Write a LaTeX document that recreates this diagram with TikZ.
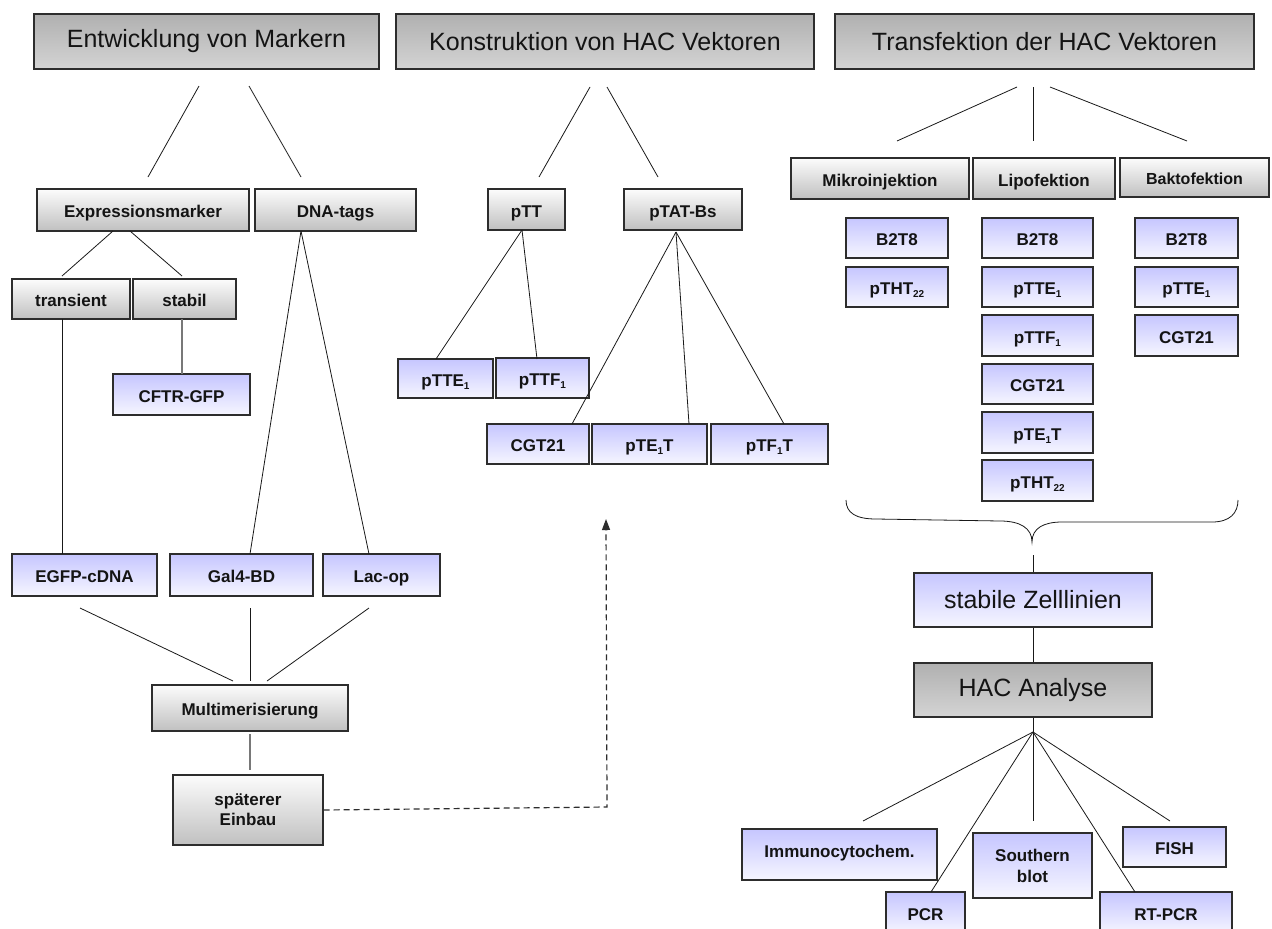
\documentclass[tikz,border=0pt]{standalone}
\usepackage{fontspec}
\setmainfont{Liberation Sans}
\usetikzlibrary{arrows.meta}

\definecolor{boxline}{RGB}{45,45,45}
\definecolor{linecol}{RGB}{25,25,25}
\definecolor{softline}{RGB}{120,120,120}
\definecolor{hdrtop}{RGB}{176,176,176}
\definecolor{hdrbot}{RGB}{212,212,212}
\definecolor{sgtop}{RGB}{252,252,252}
\definecolor{sgbot}{RGB}{192,192,192}
\definecolor{bltop}{RGB}{198,198,255}
\definecolor{blbot}{RGB}{246,246,255}

\tikzset{
  box/.style={draw=boxline, line width=1.4pt, inner sep=0pt, text=black!92},
  hdr/.style={box, top color=hdrtop, bottom color=hdrbot, font=\fontsize{25}{30}\selectfont},
  oneline/.style={text height=15pt, text depth=0pt},
  sgb/.style={box, top color=sgtop, bottom color=sgbot, font=\fontsize{17}{20}\selectfont\bfseries},
  sgbs/.style={sgb, font=\fontsize{16}{20}\selectfont\bfseries, text height=14pt, text depth=0pt},
  blb/.style={box, top color=bltop, bottom color=blbot, font=\fontsize{17}{21}\selectfont\bfseries},
  blbig/.style={box, top color=bltop, bottom color=blbot, font=\fontsize{25}{30}\selectfont},
  twoline/.style={align=center},
  link/.style={draw=linecol, line width=0.8pt},
  softlink/.style={draw=softline, line width=1.1pt},
  dashlink/.style={draw=boxline, line width=1.2pt, dash pattern=on 6pt off 4pt,
    -{Triangle[width=8pt,length=11pt]}},
}

% box given by its corners: style, name, x1, y1, x2, y2, text
\newcommand\placebox[7]{%
  \node[#1, minimum width={#5-#3}, minimum height={#6-#4}]
    (#2) at ({(#3+#5)/2},{(#4+#6)/2}) {#7};}
\newcommand\sub[1]{\raisebox{-0.18em}{\fontsize{10}{10}\selectfont #1}}

\begin{document}
\begin{tikzpicture}[x=1pt,y=-1pt]
\useasboundingbox (0,0) rectangle (1272,929);
\fill[white] (0,0) rectangle (1272,929);
\clip (0,0) rectangle (1272,929);

% ---------- headers ----------
\placebox{hdr}{h1}{34}{14}{379}{69}{Entwicklung von Markern}
\placebox{hdr}{h2}{396}{14}{814}{69}{Konstruktion von HAC Vektoren}
\placebox{hdr}{h3}{835}{14}{1254}{69}{Transfektion der HAC Vektoren}

% ---------- markers ----------
\placebox{sgb,oneline}{exm}{37}{189}{249}{231}{Expressionsmarker}
\placebox{sgb,oneline}{dna}{255}{189}{416}{231}{DNA-tags}
\placebox{sgb,oneline}{trn}{12}{279}{130}{319}{transient}
\placebox{sgb,oneline}{stb}{133}{279}{236}{319}{stabil}
\placebox{blb,oneline}{cftr}{113}{374}{250}{415}{CFTR-GFP}
\placebox{blb,oneline}{egfp}{12}{554}{157}{596}{EGFP-cDNA}
\placebox{blb,oneline}{gal}{170}{554}{313}{596}{Gal4-BD}
\placebox{blb,oneline}{lac}{323}{554}{440}{596}{Lac-op}
\placebox{sgb,oneline}{mul}{152}{685}{348}{731}{Multimerisierung}
\placebox{sgb,twoline}{spt}{173}{775}{323}{845}{späterer\\Einbau}

% ---------- vectors ----------
\placebox{sgb,oneline}{ptt}{488}{189}{565}{230}{pTT}
\placebox{sgb,oneline}{ptat}{624}{189}{742}{230}{pTAT-Bs}
\placebox{blb,oneline}{ptte}{398}{359}{493}{398}{pTTE\sub{1}}
\placebox{blb,oneline}{pttf}{496}{358}{589}{398}{pTTF\sub{1}}
\placebox{blb,oneline}{cgt}{487}{424}{589}{464}{CGT21}
\placebox{blb,oneline}{pteot}{592}{424}{707}{464}{pTE\sub{1}T}
\placebox{blb,oneline}{ptfot}{711}{424}{828}{464}{pTF\sub{1}T}

% ---------- transfection ----------
\placebox{sgb,oneline}{mik}{791}{158}{969}{199}{Mikroinjektion}
\placebox{sgb,oneline}{lip}{973}{158}{1115}{199}{Lipofektion}
\placebox{sgbs}{bak}{1120}{158}{1269}{197}{Baktofektion}

\placebox{blb,oneline}{mA}{846}{218}{948}{258}{B2T8}
\placebox{blb,oneline}{mB}{846}{267}{948}{307}{pTHT\sub{22}}

\placebox{blb,oneline}{lA}{982}{218}{1093}{258}{B2T8}
\placebox{blb,oneline}{lB}{982}{267}{1093}{307}{pTTE\sub{1}}
\placebox{blb,oneline}{lC}{982}{315}{1093}{356}{pTTF\sub{1}}
\placebox{blb,oneline}{lD}{982}{364}{1093}{404}{CGT21}
\placebox{blb,oneline}{lE}{982}{412}{1093}{453}{pTE\sub{1}T}
\placebox{blb,oneline}{lF}{982}{460}{1093}{501}{pTHT\sub{22}}

\placebox{blb,oneline}{bA}{1135}{218}{1238}{258}{B2T8}
\placebox{blb,oneline}{bB}{1135}{267}{1238}{307}{pTTE\sub{1}}
\placebox{blb,oneline}{bC}{1135}{315}{1238}{356}{CGT21}

% ---------- cell lines and analysis ----------
\placebox{blbig}{szl}{914}{573}{1152}{627}{stabile Zelllinien}
\placebox{hdr}{hac}{914}{663}{1152}{717}{HAC Analyse}
\placebox{blb,text height=6pt,text depth=0pt}{imm}{742}{829}{937}{880}{Immunocytochem.}
\placebox{blb,oneline}{pcr}{886}{892}{965}{934}{PCR}
\placebox{blb,twoline}{sou}{973}{833}{1092}{898}{Southern\\blot}
\placebox{blb,oneline}{fish}{1123}{827}{1226}{867}{FISH}
\placebox{blb,oneline}{rtp}{1100}{892}{1232}{934}{RT-PCR}

% ---------- connector end points ----------
\coordinate (h1a) at (199,86);  \coordinate (h1b) at (249,86);
\coordinate (exmT) at (148,177); \coordinate (dnaT) at (301,177);
\coordinate (exmA) at (113,231); \coordinate (exmB) at (130,231);
\coordinate (trnT) at (62,276);  \coordinate (stbT) at (182,276);
\coordinate (trnB) at (62,319);  \coordinate (egfpT) at (62,554);
\coordinate (stbB) at (182,319); \coordinate (cftrT) at (182,374);
\coordinate (dnaB) at (301,231); \coordinate (galT) at (250,554); \coordinate (lacT) at (369,554);
\coordinate (egfpB) at (80,608); \coordinate (galB) at (250,608); \coordinate (lacB) at (369,608);
\coordinate (mulA) at (233,681); \coordinate (mulB) at (250,681); \coordinate (mulC) at (267,681);
\coordinate (mulD) at (250,734); \coordinate (sptT) at (250,770);
\coordinate (dcorner) at (607,807); \coordinate (dtip) at (606,519);

\coordinate (h2a) at (590,87);  \coordinate (h2b) at (607,87);
\coordinate (pttT) at (539,177); \coordinate (ptatT) at (658,177);
\coordinate (pttB) at (522,230); \coordinate (ptteT) at (436,359); \coordinate (pttfT) at (537,359);
\coordinate (ptatB) at (676,232); \coordinate (cgtT) at (572,424);
\coordinate (pteotT) at (689,424); \coordinate (ptfotT) at (784,424);

\coordinate (h3a) at (1017,87); \coordinate (h3b) at (1033,87); \coordinate (h3c) at (1050,87);
\coordinate (mikT) at (897,141); \coordinate (lipT) at (1033,141); \coordinate (bakT) at (1187,141);

\coordinate (brtip) at (1032,542); \coordinate (brlow) at (1033,555);
\coordinate (fan) at (1033,732);
\coordinate (immT) at (863,821); \coordinate (pcrT) at (931,892);
\coordinate (souT) at (1033,821); \coordinate (rtpT) at (1135,892); \coordinate (fishT) at (1170,821);

% ---------- connectors ----------
\draw[link] (h1a) -- (exmT);
\draw[link] (h1b) -- (dnaT);
\draw[link] (exmA) -- (trnT);
\draw[link] (exmB) -- (stbT);
\draw[link] (trnB) -- (egfpT);
\draw[softlink] (stbB) -- (cftrT);
\draw[link] (dnaB) -- (galT);
\draw[link] (dnaB) -- (lacT);
\draw[link] (egfpB) -- (mulA);
\draw[link] (galB) -- (mulB);
\draw[link] (lacB) -- (mulC);
\draw[softlink] (mulD) -- (sptT);
\draw[dashlink] (spt.east) -- (dcorner) -- (dtip);

\draw[link] (h2a) -- (pttT);
\draw[link] (h2b) -- (ptatT);
\draw[link] (pttB) -- (ptteT);
\draw[link] (pttB) -- (pttfT);
\draw[link] (ptatB) -- (cgtT);
\draw[link] (ptatB) -- (pteotT);
\draw[link] (ptatB) -- (ptfotT);

\draw[link] (h3a) -- (mikT);
\draw[link] (h3b) -- (lipT);
\draw[link] (h3c) -- (bakT);

% curly brace gathering the three transfection columns
\draw[link] (846,500) .. controls (846,513) and (856,519) .. (876,519)
  -- (1000,521) .. controls (1020,521) and (1032,528) .. (brtip)
  .. controls (1032,528) and (1044,522) .. (1062,522)
  -- (1212,522) .. controls (1230,522) and (1238,513) .. (1238,500);
\draw[link] (brlow) -- (szl.north);
\draw[link] (szl.south) -- (hac.north);
\draw[link] (hac.south) -- (fan);
\draw[link] (fan) -- (immT);
\draw[link] (fan) -- (pcrT);
\draw[link] (fan) -- (souT);
\draw[link] (fan) -- (rtpT);
\draw[link] (fan) -- (fishT);
\end{tikzpicture}
\end{document}
